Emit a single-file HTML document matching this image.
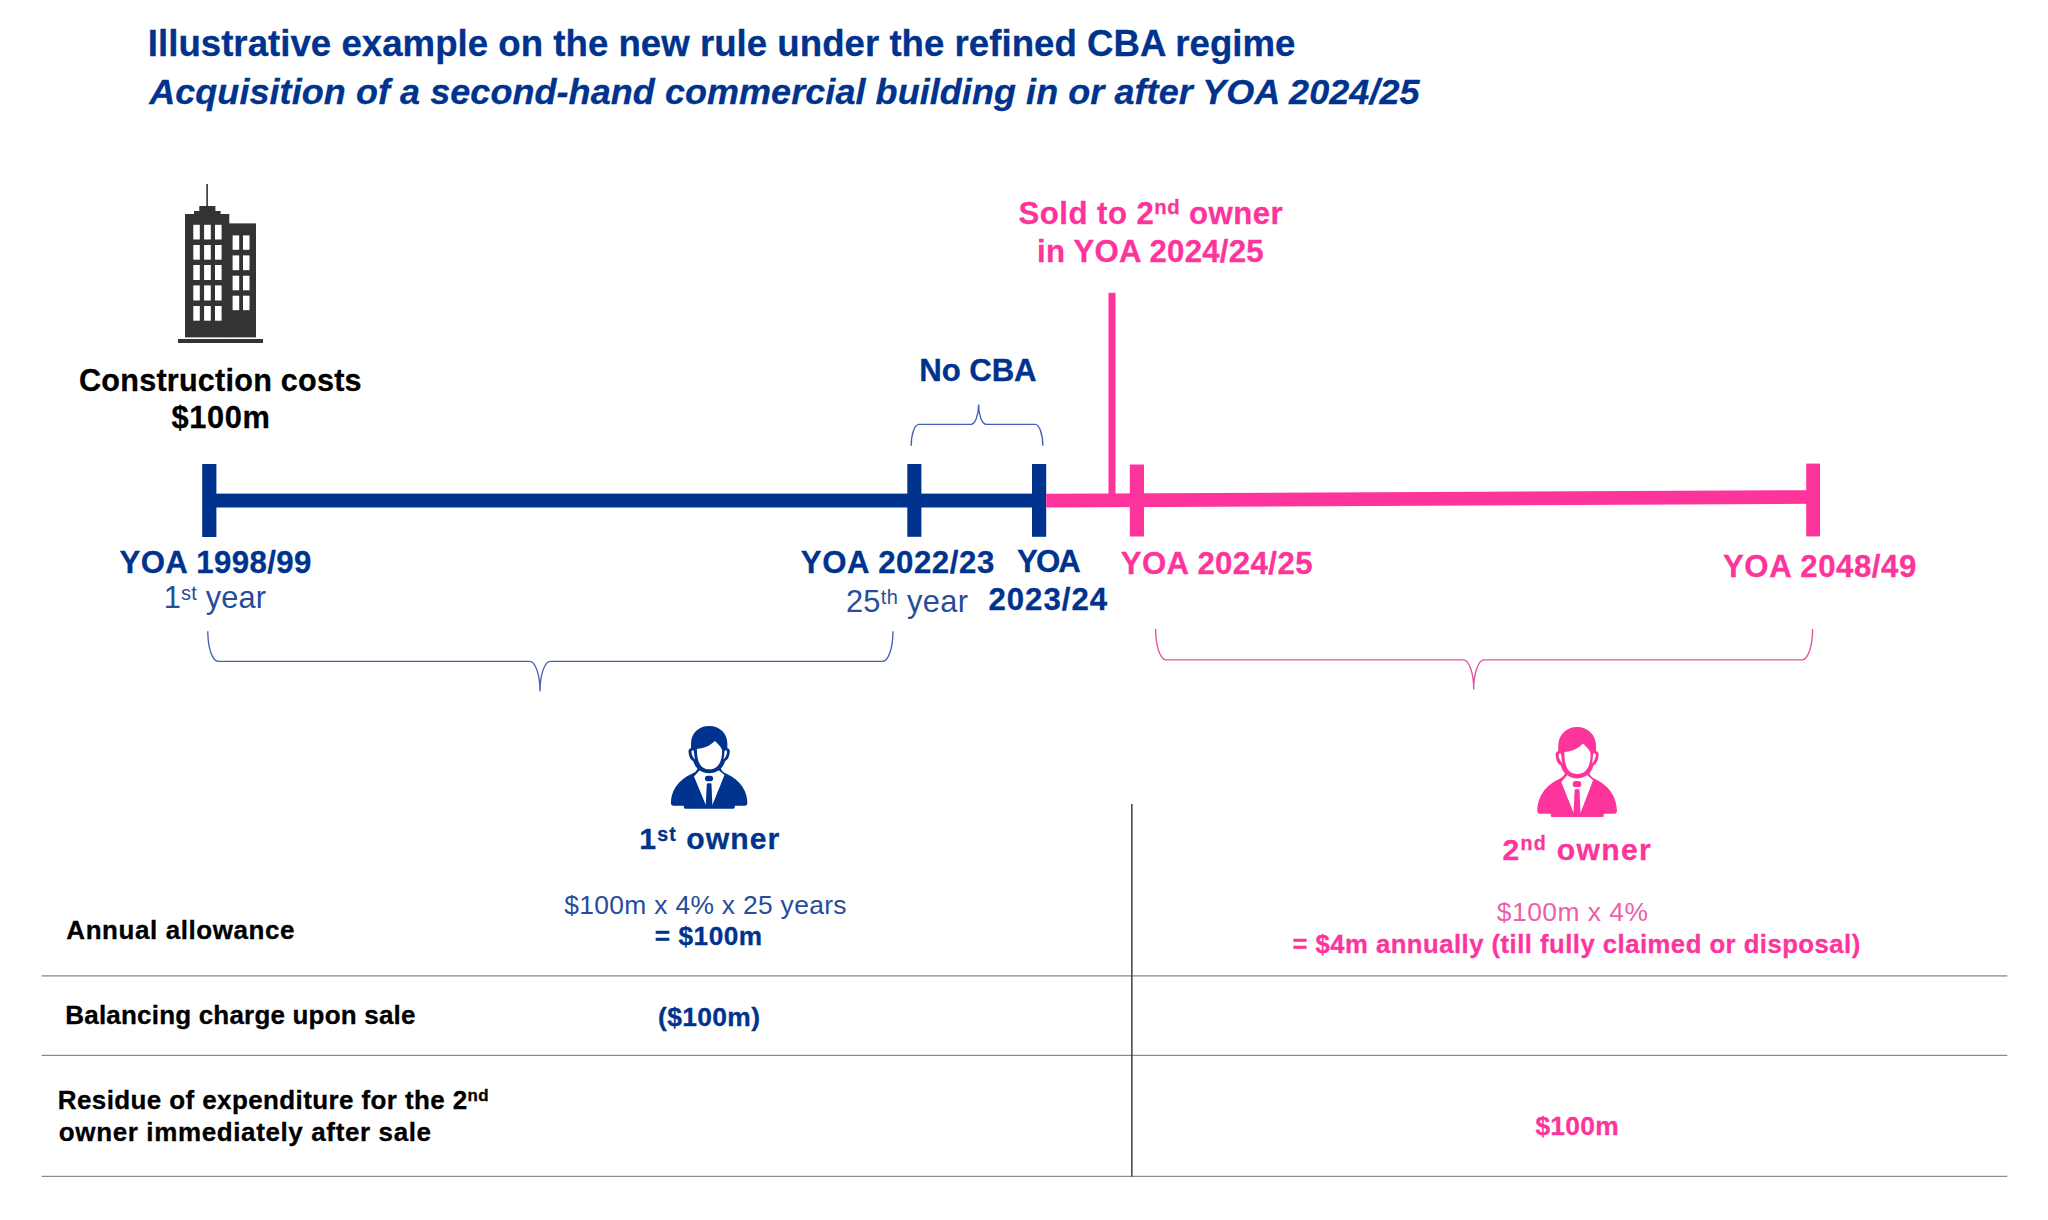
<!DOCTYPE html>
<html lang="en">
<head>
<meta charset="utf-8">
<title>Illustrative example on the new rule under the refined CBA regime</title>
<style>
html,body{margin:0;padding:0;background:#fff;}
body{width:2048px;height:1220px;position:relative;overflow:hidden;
font-family:"Liberation Sans",Arial,Helvetica,sans-serif;}
svg{position:absolute;left:0;top:0;}
.t{position:absolute;white-space:nowrap;margin:0;padding:0;}
.t sup{font-size:.65em;line-height:0;vertical-align:baseline;position:relative;top:-.40em;}
.t sup.n{top:-.50em;}
</style>
</head>
<body>
<svg width="2048" height="1220" viewBox="0 0 2048 1220">
<rect x="206.3" y="184.0" width="1.6" height="23.0" fill="#333333"/>
<rect x="199.3" y="206.0" width="16.1" height="6.0" fill="#333333"/>
<rect x="194.0" y="211.0" width="26.6" height="4.0" fill="#333333"/>
<rect x="185.0" y="214.0" width="44.3" height="123.4" fill="#333333"/>
<rect x="228.8" y="223.4" width="27.2" height="114.0" fill="#333333"/>
<rect x="178.0" y="339.0" width="85.0" height="4.0" fill="#333333"/>
<rect x="193.3" y="224.8" width="6.5" height="14.7" fill="#fff"/>
<rect x="204.1" y="224.8" width="6.7" height="14.7" fill="#fff"/>
<rect x="215.0" y="224.8" width="6.6" height="14.7" fill="#fff"/>
<rect x="193.3" y="245.0" width="6.5" height="14.7" fill="#fff"/>
<rect x="204.1" y="245.0" width="6.7" height="14.7" fill="#fff"/>
<rect x="215.0" y="245.0" width="6.6" height="14.7" fill="#fff"/>
<rect x="193.3" y="265.0" width="6.5" height="15.0" fill="#fff"/>
<rect x="204.1" y="265.0" width="6.7" height="15.0" fill="#fff"/>
<rect x="215.0" y="265.0" width="6.6" height="15.0" fill="#fff"/>
<rect x="193.3" y="285.4" width="6.5" height="15.1" fill="#fff"/>
<rect x="204.1" y="285.4" width="6.7" height="15.1" fill="#fff"/>
<rect x="215.0" y="285.4" width="6.6" height="15.1" fill="#fff"/>
<rect x="193.3" y="306.0" width="6.5" height="14.7" fill="#fff"/>
<rect x="204.1" y="306.0" width="6.7" height="14.7" fill="#fff"/>
<rect x="215.0" y="306.0" width="6.6" height="14.7" fill="#fff"/>
<rect x="232.6" y="235.4" width="6.6" height="14.4" fill="#fff"/>
<rect x="243.0" y="235.4" width="6.5" height="14.4" fill="#fff"/>
<rect x="232.6" y="255.4" width="6.6" height="14.8" fill="#fff"/>
<rect x="243.0" y="255.4" width="6.5" height="14.8" fill="#fff"/>
<rect x="232.6" y="275.7" width="6.6" height="14.6" fill="#fff"/>
<rect x="243.0" y="275.7" width="6.5" height="14.6" fill="#fff"/>
<rect x="232.6" y="295.7" width="6.6" height="14.5" fill="#fff"/>
<rect x="243.0" y="295.7" width="6.5" height="14.5" fill="#fff"/>
<rect x="202.2" y="464" width="14.2" height="73" fill="#00338D"/>
<rect x="907.3" y="464" width="14.1" height="72.8" fill="#00338D"/>
<rect x="1032" y="464" width="14.2" height="72.8" fill="#00338D"/>
<rect x="209" y="493.6" width="830" height="13.9" fill="#00338D"/>
<line x1="1046.2" y1="500.6" x2="1813" y2="497.0" stroke="#FD349C" stroke-width="13.7"/>
<rect x="1129.8" y="464.5" width="14.2" height="72" fill="#FD349C"/>
<rect x="1806.2" y="463.6" width="13.8" height="72.8" fill="#FD349C"/>
<rect x="1108.5" y="292.8" width="7" height="202" fill="#FD349C"/>
<path d="M911.2,445.8 A7.8,21.400000000000034 0 0 1 919.0,424.4 L970.8000000000001,424.4 A7.8,20.0 0 0 0 978.6,404.4 A7.8,20.0 0 0 0 986.4,424.4 L1035.0,424.4 A7.8,21.400000000000034 0 0 1 1042.8,445.8" fill="none" stroke="#4560B8" stroke-width="1.35"/>
<path d="M207.8,631.3 A10.4,30.0 0 0 0 218.20000000000002,661.3 L529.6,661.3 A10.4,30.200000000000045 0 0 1 540,691.5 A10.4,30.200000000000045 0 0 1 550.4,661.3 L882.6,661.3 A10.4,30.0 0 0 0 893,631.3" fill="none" stroke="#4560B8" stroke-width="1.35"/>
<path d="M1155.6,629 A10.4,30.799999999999955 0 0 0 1166.0,659.8 L1463.3,659.8 A10.4,29.700000000000045 0 0 1 1473.7,689.5 A10.4,29.700000000000045 0 0 1 1484.1000000000001,659.8 L1802.1999999999998,659.8 A10.4,30.799999999999955 0 0 0 1812.6,629" fill="none" stroke="#E0559E" stroke-width="1.35"/>
<rect x="41.7" y="975" width="1965.6" height="1.7" fill="#a6a6a6"/>
<rect x="41.7" y="1054.8" width="1965.6" height="1.1" fill="#7f7f7f"/>
<rect x="41.7" y="1175.8" width="1965.6" height="1.1" fill="#7f7f7f"/>
<rect x="1131.1" y="804" width="1.5" height="372.5" fill="#404040"/>
<g transform="translate(650.000,710.000) scale(0.09016,0.09016)" fill="#00338D"><path d="M232,1035 C232,912 298,780 470,705 C505,690 520,670 532,640 L782,640 C792,670 808,690 842,705 C1014,780 1080,912 1080,1035 Q1080,1062 1055,1062 L940,1062 L940,1080 Q940,1096 922,1096 L392,1096 Q375,1096 375,1080 L375,1062 L257,1062 Q232,1062 232,1035 Z"/>
<path d="M488,738 L552,668 L762,668 L826,722 L693,1052 L618,1052 Z" fill="#fff"/>
<path d="M656,178 C775,178 858,262 858,372 L858,425 C880,425 888,445 885,470 C880,520 860,555 832,568 C810,650 740,702 656,702 C572,702 502,650 480,568 C452,555 432,520 428,470 C425,445 433,425 455,425 L455,372 C455,262 537,178 656,178 Z"/>
<path d="M520,432 C590,428 665,402 718,345 C765,385 800,425 800,455 C800,520 788,585 742,630 C700,668 616,668 575,630 C530,585 520,510 520,432 Z" fill="#fff"/>
<path d="M462,452 C470,440 486,445 488,462 C490,495 494,525 500,548 C478,530 462,495 460,470 Z" fill="#fff"/>
<path d="M852,452 C844,440 828,445 826,462 C824,495 820,525 814,548 C836,530 852,495 854,470 Z" fill="#fff"/>
<rect x="610" y="728" width="90" height="62" rx="29" ry="29"/>
<path d="M640,812 L672,812 Q682,812 682,822 L692,1060 L618,1060 L630,822 Q630,812 640,812 Z"/>
</g>
<g transform="translate(1515.523,709.669) scale(0.09387,0.09793)" fill="#FD349C"><path d="M232,1035 C232,912 298,780 470,705 C505,690 520,670 532,640 L782,640 C792,670 808,690 842,705 C1014,780 1080,912 1080,1035 Q1080,1062 1055,1062 L940,1062 L940,1080 Q940,1096 922,1096 L392,1096 Q375,1096 375,1080 L375,1062 L257,1062 Q232,1062 232,1035 Z"/>
<path d="M488,738 L552,668 L762,668 L826,722 L693,1052 L618,1052 Z" fill="#fff"/>
<path d="M656,178 C775,178 858,262 858,372 L858,425 C880,425 888,445 885,470 C880,520 860,555 832,568 C810,650 740,702 656,702 C572,702 502,650 480,568 C452,555 432,520 428,470 C425,445 433,425 455,425 L455,372 C455,262 537,178 656,178 Z"/>
<path d="M520,432 C590,428 665,402 718,345 C765,385 800,425 800,455 C800,520 788,585 742,630 C700,668 616,668 575,630 C530,585 520,510 520,432 Z" fill="#fff"/>
<path d="M462,452 C470,440 486,445 488,462 C490,495 494,525 500,548 C478,530 462,495 460,470 Z" fill="#fff"/>
<path d="M852,452 C844,440 828,445 826,462 C824,495 820,525 814,548 C836,530 852,495 854,470 Z" fill="#fff"/>
<rect x="610" y="728" width="90" height="62" rx="29" ry="29"/>
<path d="M640,812 L672,812 Q682,812 682,822 L692,1060 L618,1060 L630,822 Q630,812 640,812 Z"/>
</g>
</svg>
<div class="t" id="t1" style="left:147.80px;top:25.61px;font-size:36.61px;line-height:36.61px;font-weight:700;color:#00338D;letter-spacing:0.025px;-webkit-text-stroke:0.3px;">Illustrative example on the new rule under the refined CBA regime</div>
<div class="t" id="t2" style="left:149.20px;top:73.54px;font-size:35.98px;line-height:35.98px;font-weight:700;color:#00338D;letter-spacing:0.073px;-webkit-text-stroke:0.3px;font-style:italic;">Acquisition of a second-hand commercial building in or after YOA 2024/25</div>
<div class="t" id="cc1" style="left:79.00px;top:365.01px;font-size:30.58px;line-height:30.58px;font-weight:700;color:#000000;letter-spacing:0.235px;-webkit-text-stroke:0.3px;">Construction costs</div>
<div class="t" id="cc2" style="left:171.40px;top:402.94px;font-size:30.78px;line-height:30.78px;font-weight:700;color:#000000;letter-spacing:0.650px;-webkit-text-stroke:0.3px;">$100m</div>
<div class="t" id="sold1" style="left:1018.60px;top:198.09px;font-size:31.2px;line-height:31.2px;font-weight:700;color:#FD349C;letter-spacing:0.450px;-webkit-text-stroke:0.3px;">Sold to 2<sup class='n'>nd</sup> owner</div>
<div class="t" id="sold2" style="left:1037.00px;top:235.99px;font-size:31.2px;line-height:31.2px;font-weight:700;color:#FD349C;letter-spacing:0.231px;-webkit-text-stroke:0.3px;">in YOA 2024/25</div>
<div class="t" id="nocba" style="left:919.20px;top:354.89px;font-size:31.2px;line-height:31.2px;font-weight:700;color:#00338D;letter-spacing:-0.080px;-webkit-text-stroke:0.3px;">No CBA</div>
<div class="t" id="y1" style="left:119.50px;top:546.99px;font-size:31.2px;line-height:31.2px;font-weight:700;color:#00338D;letter-spacing:0.400px;-webkit-text-stroke:0.3px;">YOA 1998/99</div>
<div class="t" id="y1b" style="left:163.80px;top:583.04px;font-size:30.78px;line-height:30.78px;font-weight:400;color:#264C9A;letter-spacing:0.171px;">1<sup>st</sup> year</div>
<div class="t" id="y2" style="left:800.80px;top:546.59px;font-size:31.2px;line-height:31.2px;font-weight:700;color:#00338D;letter-spacing:0.560px;-webkit-text-stroke:0.3px;">YOA 2022/23</div>
<div class="t" id="y2b" style="left:845.90px;top:587.24px;font-size:30.78px;line-height:30.78px;font-weight:400;color:#264C9A;letter-spacing:0.350px;">25<sup>th</sup> year</div>
<div class="t" id="y3" style="left:1016.90px;top:546.09px;font-size:31.2px;line-height:31.2px;font-weight:700;color:#00338D;letter-spacing:-1.800px;-webkit-text-stroke:0.3px;">YOA</div>
<div class="t" id="y3b" style="left:988.50px;top:583.89px;font-size:31.2px;line-height:31.2px;font-weight:700;color:#00338D;letter-spacing:0.967px;-webkit-text-stroke:0.3px;">2023/24</div>
<div class="t" id="y4" style="left:1120.70px;top:547.89px;font-size:31.2px;line-height:31.2px;font-weight:700;color:#FD349C;letter-spacing:0.400px;-webkit-text-stroke:0.3px;">YOA 2024/25</div>
<div class="t" id="y5" style="left:1723.00px;top:551.19px;font-size:31.2px;line-height:31.2px;font-weight:700;color:#FD349C;letter-spacing:0.540px;-webkit-text-stroke:0.3px;">YOA 2048/49</div>
<div class="t" id="o1" style="left:639.30px;top:823.77px;font-size:30.16px;line-height:30.16px;font-weight:700;color:#00338D;letter-spacing:1.075px;-webkit-text-stroke:0.3px;">1<sup>st</sup> owner</div>
<div class="t" id="o1a" style="left:564.30px;top:892.44px;font-size:26.42px;line-height:26.42px;font-weight:400;color:#264C9A;letter-spacing:0.310px;">$100m x 4% x 25 years</div>
<div class="t" id="o1b" style="left:654.80px;top:922.61px;font-size:26.21px;line-height:26.21px;font-weight:700;color:#00338D;letter-spacing:0.533px;-webkit-text-stroke:0.3px;">= $100m</div>
<div class="t" id="o1c" style="left:658.00px;top:1004.34px;font-size:26.42px;line-height:26.42px;font-weight:700;color:#00338D;letter-spacing:0.367px;-webkit-text-stroke:0.3px;">($100m)</div>
<div class="t" id="o2" style="left:1502.40px;top:835.07px;font-size:30.16px;line-height:30.16px;font-weight:700;color:#FD349C;letter-spacing:1.300px;-webkit-text-stroke:0.3px;">2<sup class='n'>nd</sup> owner</div>
<div class="t" id="o2a" style="left:1496.80px;top:898.74px;font-size:26.42px;line-height:26.42px;font-weight:400;color:#EE5FAA;letter-spacing:0.489px;">$100m x 4%</div>
<div class="t" id="o2b" style="left:1292.40px;top:931.85px;font-size:25.69px;line-height:25.69px;font-weight:700;color:#FD349C;letter-spacing:0.474px;-webkit-text-stroke:0.3px;">= $4m annually (till fully claimed or disposal)</div>
<div class="t" id="o2c" style="left:1535.40px;top:1113.04px;font-size:26.42px;line-height:26.42px;font-weight:700;color:#FD349C;letter-spacing:0.250px;-webkit-text-stroke:0.3px;">$100m</div>
<div class="t" id="r1" style="left:66.30px;top:916.99px;font-size:26.0px;line-height:26.0px;font-weight:700;color:#000000;letter-spacing:0.573px;-webkit-text-stroke:0.3px;">Annual allowance</div>
<div class="t" id="r2" style="left:65.30px;top:1001.99px;font-size:26.0px;line-height:26.0px;font-weight:700;color:#000000;letter-spacing:0.192px;-webkit-text-stroke:0.3px;">Balancing charge upon sale</div>
<div class="t" id="r3" style="left:57.80px;top:1087.09px;font-size:26.0px;line-height:26.0px;font-weight:700;color:#000000;letter-spacing:0.388px;-webkit-text-stroke:0.3px;">Residue of expenditure for the 2<sup class='n'>nd</sup></div>
<div class="t" id="r4" style="left:58.80px;top:1118.79px;font-size:26.0px;line-height:26.0px;font-weight:700;color:#000000;letter-spacing:0.622px;-webkit-text-stroke:0.3px;">owner immediately after sale</div>
</body>
</html>
